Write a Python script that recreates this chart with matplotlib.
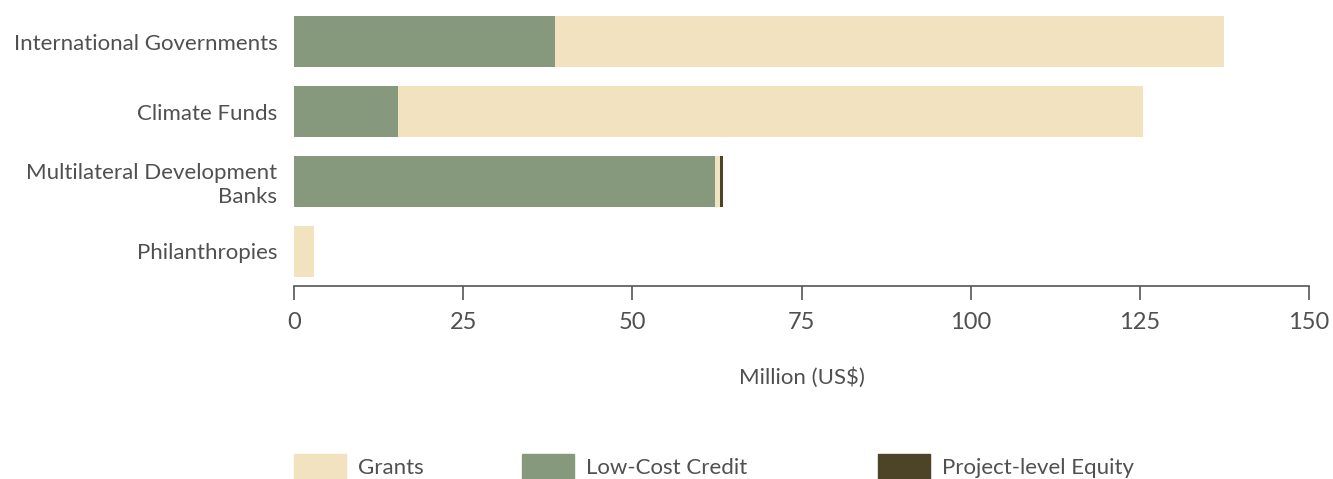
import matplotlib
matplotlib.use("Agg")
import matplotlib.pyplot as plt
from matplotlib.patches import Rectangle

categories = ["International Governments", "Climate Funds",
              "Multilateral Development\nBanks", "Philanthropies"]
credit = [38.6, 15.4, 62.2, 0.0]
grants = [98.8, 110.1, 0.7, 3.0]
equity = [0.0, 0.0, 0.5, 0.0]

series = ["Grants", "Low-Cost Credit", "Project-level Equity"]
colors = ["#F2E2C0", "#87997D", "#4D4326"]
text_color = "#505050"

plt.rcParams["font.family"] = ["Lato", "DejaVu Sans"]

W, H = 1333, 479
fig = plt.figure(figsize=(W / 100, H / 100), dpi=100)
ax = fig.add_axes([294 / W, 1 - 286 / H, 1015 / W, 286 / H])

y = list(range(len(categories)))
left2 = [c + g for c, g in zip(credit, grants)]
ax.barh(y, credit, height=0.73, color=colors[1])
ax.barh(y, grants, left=credit, height=0.73, color=colors[0])
ax.barh(y, equity, left=left2, height=0.73, color=colors[2])

ax.set_xlim(0, 150)
ax.set_ylim(3.493, -0.593)
ax.set_yticks(y)
ax.set_yticklabels(categories, fontsize=16, color=text_color)
ax.tick_params(axis="y", length=0, pad=12)
ax.set_xticks([0, 25, 50, 75, 100, 125, 150])
ax.tick_params(axis="x", length=10, width=1.2, color="#555555",
               pad=9, labelsize=17, labelcolor=text_color)
for s in ["top", "right", "left"]:
    ax.spines[s].set_visible(False)
ax.spines["bottom"].set_color("#555555")
ax.spines["bottom"].set_linewidth(1.2)
ax.set_xlabel("Million (US$)", fontsize=16, color=text_color, labelpad=24)

# legend drawn by hand (uneven spacing in the original)
starts = [294, 522, 878]
for x0, name, col in zip(starts, series, colors):
    fig.patches.append(Rectangle((x0 / W, 0), 52 / W, 25 / H,
                                 transform=fig.transFigure, color=col))
    fig.text((x0 + 64) / W, 1 - 468 / H, name, fontsize=16,
             color=text_color, va="center", ha="left")

fig.savefig("out.png", dpi=100)
